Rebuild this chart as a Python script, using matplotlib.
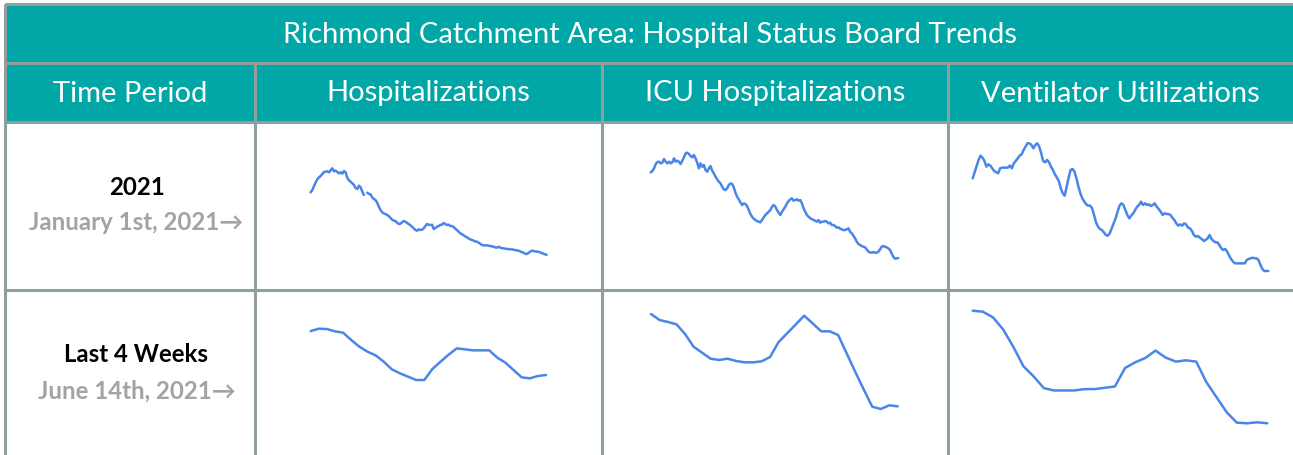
import numpy as np
import matplotlib
matplotlib.use("Agg")
import matplotlib.pyplot as plt
from matplotlib.patches import Rectangle

plt.rcParams['font.family'] = ['Lato', 'DejaVu Sans']

# ---- data ----
title = "Richmond Catchment Area: Hospital Status Board Trends"
col_headers = ["Time Period", "Hospitalizations", "ICU Hospitalizations", "Ventilator Utilizations"]
period_names = ["2021", "Last 4 Weeks"]
period_starts = ["January 1st, 2021\u2192", "June 14th, 2021\u2192"]

# 2021 daily-ish trends (nan = missing report)
hosp_2021 = [273, 280, 292, 303, 312, 318, 322, 328, 334, 335, 336, 333, 339, 345, 336, 338,
             334, 330, 333, 329, 337, 333, 317, 309, 305, 300, 295, 286, 283, 293, 288, 276,
             265, np.nan, 272, 268, 267, 258, 253, 250, 242, 230, 220, 213, 210, 208, 205, 202,
             196, 191, 188, 187, 182, 178, 179, 183, 187, 185, 181, 178, 174, 170, 165, 160,
             158, 162, 160, 161, 165, 172, 178, 176, 175, 176, 163, 166, 170, 172, 175, 176,
             181, 178, 175, 176, 172, 172, 169, 164, 160, 155, 150, 148, 144, 141, 138, 135,
             132, 130, 128, 126, 125, 122, 119, 115, 114, 114, 114, 113, 112, 111, 110, 108,
             107, 110, 107, 106, 105, 104, 103, 103, 102, 102, 101, 100, 99, 98, 96, 94,
             92, 89, 88, 91, 95, 98, 97, 96, 95, 95, 93, 91, 89, 87, 86]
icu_2021 = [303, 307, 315, 328, 334, 335, 330, 332, 343, 335, 330, 335, 330, 333, 345, 335,
            338, 335, 328, 338, 348, 360, 362, 358, 352, 348, 355, 345, 332, 315, 330, 320,
            325, 310, 305, 315, 322, 308, 300, 290, 282, 275, 270, 260, 252, 250, 255, 265,
            270, 268, 258, 242, 230, 222, 213, 205, 210, 208, 202, 190, 178, 170, 164, 160,
            157, 155, 153, 160, 168, 175, 180, 185, 190, 200, 205, 200, 190, 182, 175, 185,
            192, 200, 210, 217, 222, 225, 218, 220, 222, 218, 220, 210, 195, 185, 175, 170,
            165, 163, 160, 158, 155, 160, 152, 155, 155, 157, 155, 150, 152, 145, 145, 142,
            137, 138, 134, 132, 130, 130, 132, 135, 125, 120, 113, 105, 95, 88, 85, 82,
            80, 78, 72, 65, 63, 62, 64, 62, 62, 65, 72, 80, 82, 80, 78, 75,
            70, 60, 50, 44, 45, 46]
vent_2021 = [320, 338, 355, 375, 388, 382, 372, 355, 362, 358, 350, 342, 338, 335, 350, 352,
             352, 352, 352, 358, 350, 365, 372, 380, 388, 392, 405, 415, 425, 425, 420, 410,
             420, 425, 415, 395, 372, 368, 375, 368, 355, 345, 332, 322, 312, 290, 275, 268,
             295, 322, 345, 348, 340, 320, 295, 275, 260, 250, 242, 238, 238, 230, 210, 188,
             175, 168, 165, 158, 150, 148, 155, 170, 185, 200, 220, 238, 245, 240, 225, 210,
             200, 208, 215, 225, 235, 240, 250, 240, 245, 240, 242, 237, 240, 245, 235, 228,
             220, 210, 215, 213, 213, 210, 202, 195, 185, 178, 182, 178, 185, 182, 172, 170,
             162, 150, 145, 147, 142, 138, 132, 135, 140, 150, 138, 132, 128, 128, 120, 110,
             105, 108, 100, 88, 78, 70, 65, 65, 65, 65, 65, 65, 75, 78, 80, 82,
             80, 80, 75, 60, 48, 42, 42, 42]

# last 4 weeks
hosp_4wk = [337, 344, 343, 336, 332, 310, 290, 275, 264, 245, 222, 210, 200, 190, 190,
            223, 245, 266, 285, 282, 279, 279, 279, 257, 242, 220, 198, 195, 202, 205]
icu_4wk = [358, 340, 334, 327, 298, 260, 242, 224, 220, 224, 217, 213, 213, 216, 229,
           274, 300, 326, 353, 330, 306, 306, 295, 240, 185, 132, 80, 73, 84, 81]
vent_4wk = [368, 365, 348, 312, 260, 202, 172, 137, 130, 130, 130, 134, 134, 138, 142,
            197, 214, 227, 249, 228, 216, 220, 216, 155, 110, 65, 34, 32, 35, 32]

W, H = 1293, 455
teal = "#00A7A6"
grid_col = "#8F9E9E"
line_col = "#4A86E8"

fig = plt.figure(figsize=(W / 100, H / 100), dpi=100)
ax = fig.add_axes([0, 0, 1, 1])
ax.set_xlim(0, W)
ax.set_ylim(H, 0)
ax.axis("off")

col_x = [5, 255, 601.5, 948, W]
row_y = [4, 62.5, 121.5, 290, H]

# header background
ax.add_patch(Rectangle((col_x[0], row_y[0]), W - col_x[0], row_y[2] - row_y[0],
                       facecolor=teal, edgecolor="none"))

# grid lines
lw = 2.2
for y in row_y[:4]:
    ax.plot([col_x[0], W], [y, y], color=grid_col, lw=lw, solid_capstyle="butt")
ax.plot([col_x[0], col_x[0]], [row_y[0], H], color=grid_col, lw=lw, solid_capstyle="butt")
for x in col_x[1:4]:
    ax.plot([x, x], [row_y[1], H], color=grid_col, lw=lw, solid_capstyle="butt")

# header text
ax.text(650, 43.5, title, color="white", fontsize=21, ha="center", va="baseline")
for i, h in enumerate(col_headers):
    cx = (col_x[i] + col_x[i + 1]) / 2
    ax.text(cx, 101.5, h, color="white", fontsize=21, ha="center", va="baseline")

# period labels
label_y = [(195, 230), (361.5, 398)]
for name, start, (y1, y2) in zip(period_names, period_starts, label_y):
    ax.text(136.5, y1, name, color="black", fontsize=17.3, fontweight="bold", ha="center", va="baseline")
    ax.text(136.5, y2, start, color="#A3A3A3", fontsize=17.3, fontweight="bold", ha="center", va="baseline")


def spark(box, values):
    x0, y0, x1, y1 = box
    sax = fig.add_axes([x0 / W, 1 - y1 / H, (x1 - x0) / W, (y1 - y0) / H])
    v = np.array(values, dtype=float)
    sax.plot(np.arange(len(v)), v, color=line_col, lw=1.8, clip_on=False,
             solid_joinstyle="round", solid_capstyle="round")
    sax.set_xlim(0, len(v) - 1)
    sax.set_ylim(np.nanmin(v), np.nanmax(v))
    sax.axis("off")


spark((310.7, 168.3, 546.7, 254.7), hosp_2021)
spark((650.7, 152.7, 898.3, 258.7), icu_2021)
spark((972.7, 143.3, 1268.3, 271.0), vent_2021)
spark((310.7, 328.7, 546.0, 380.0), hosp_4wk)
spark((651.0, 314.0, 897.7, 409.0), icu_4wk)
spark((972.7, 310.7, 1267.3, 423.3), vent_4wk)

fig.savefig("out.png", dpi=100)
